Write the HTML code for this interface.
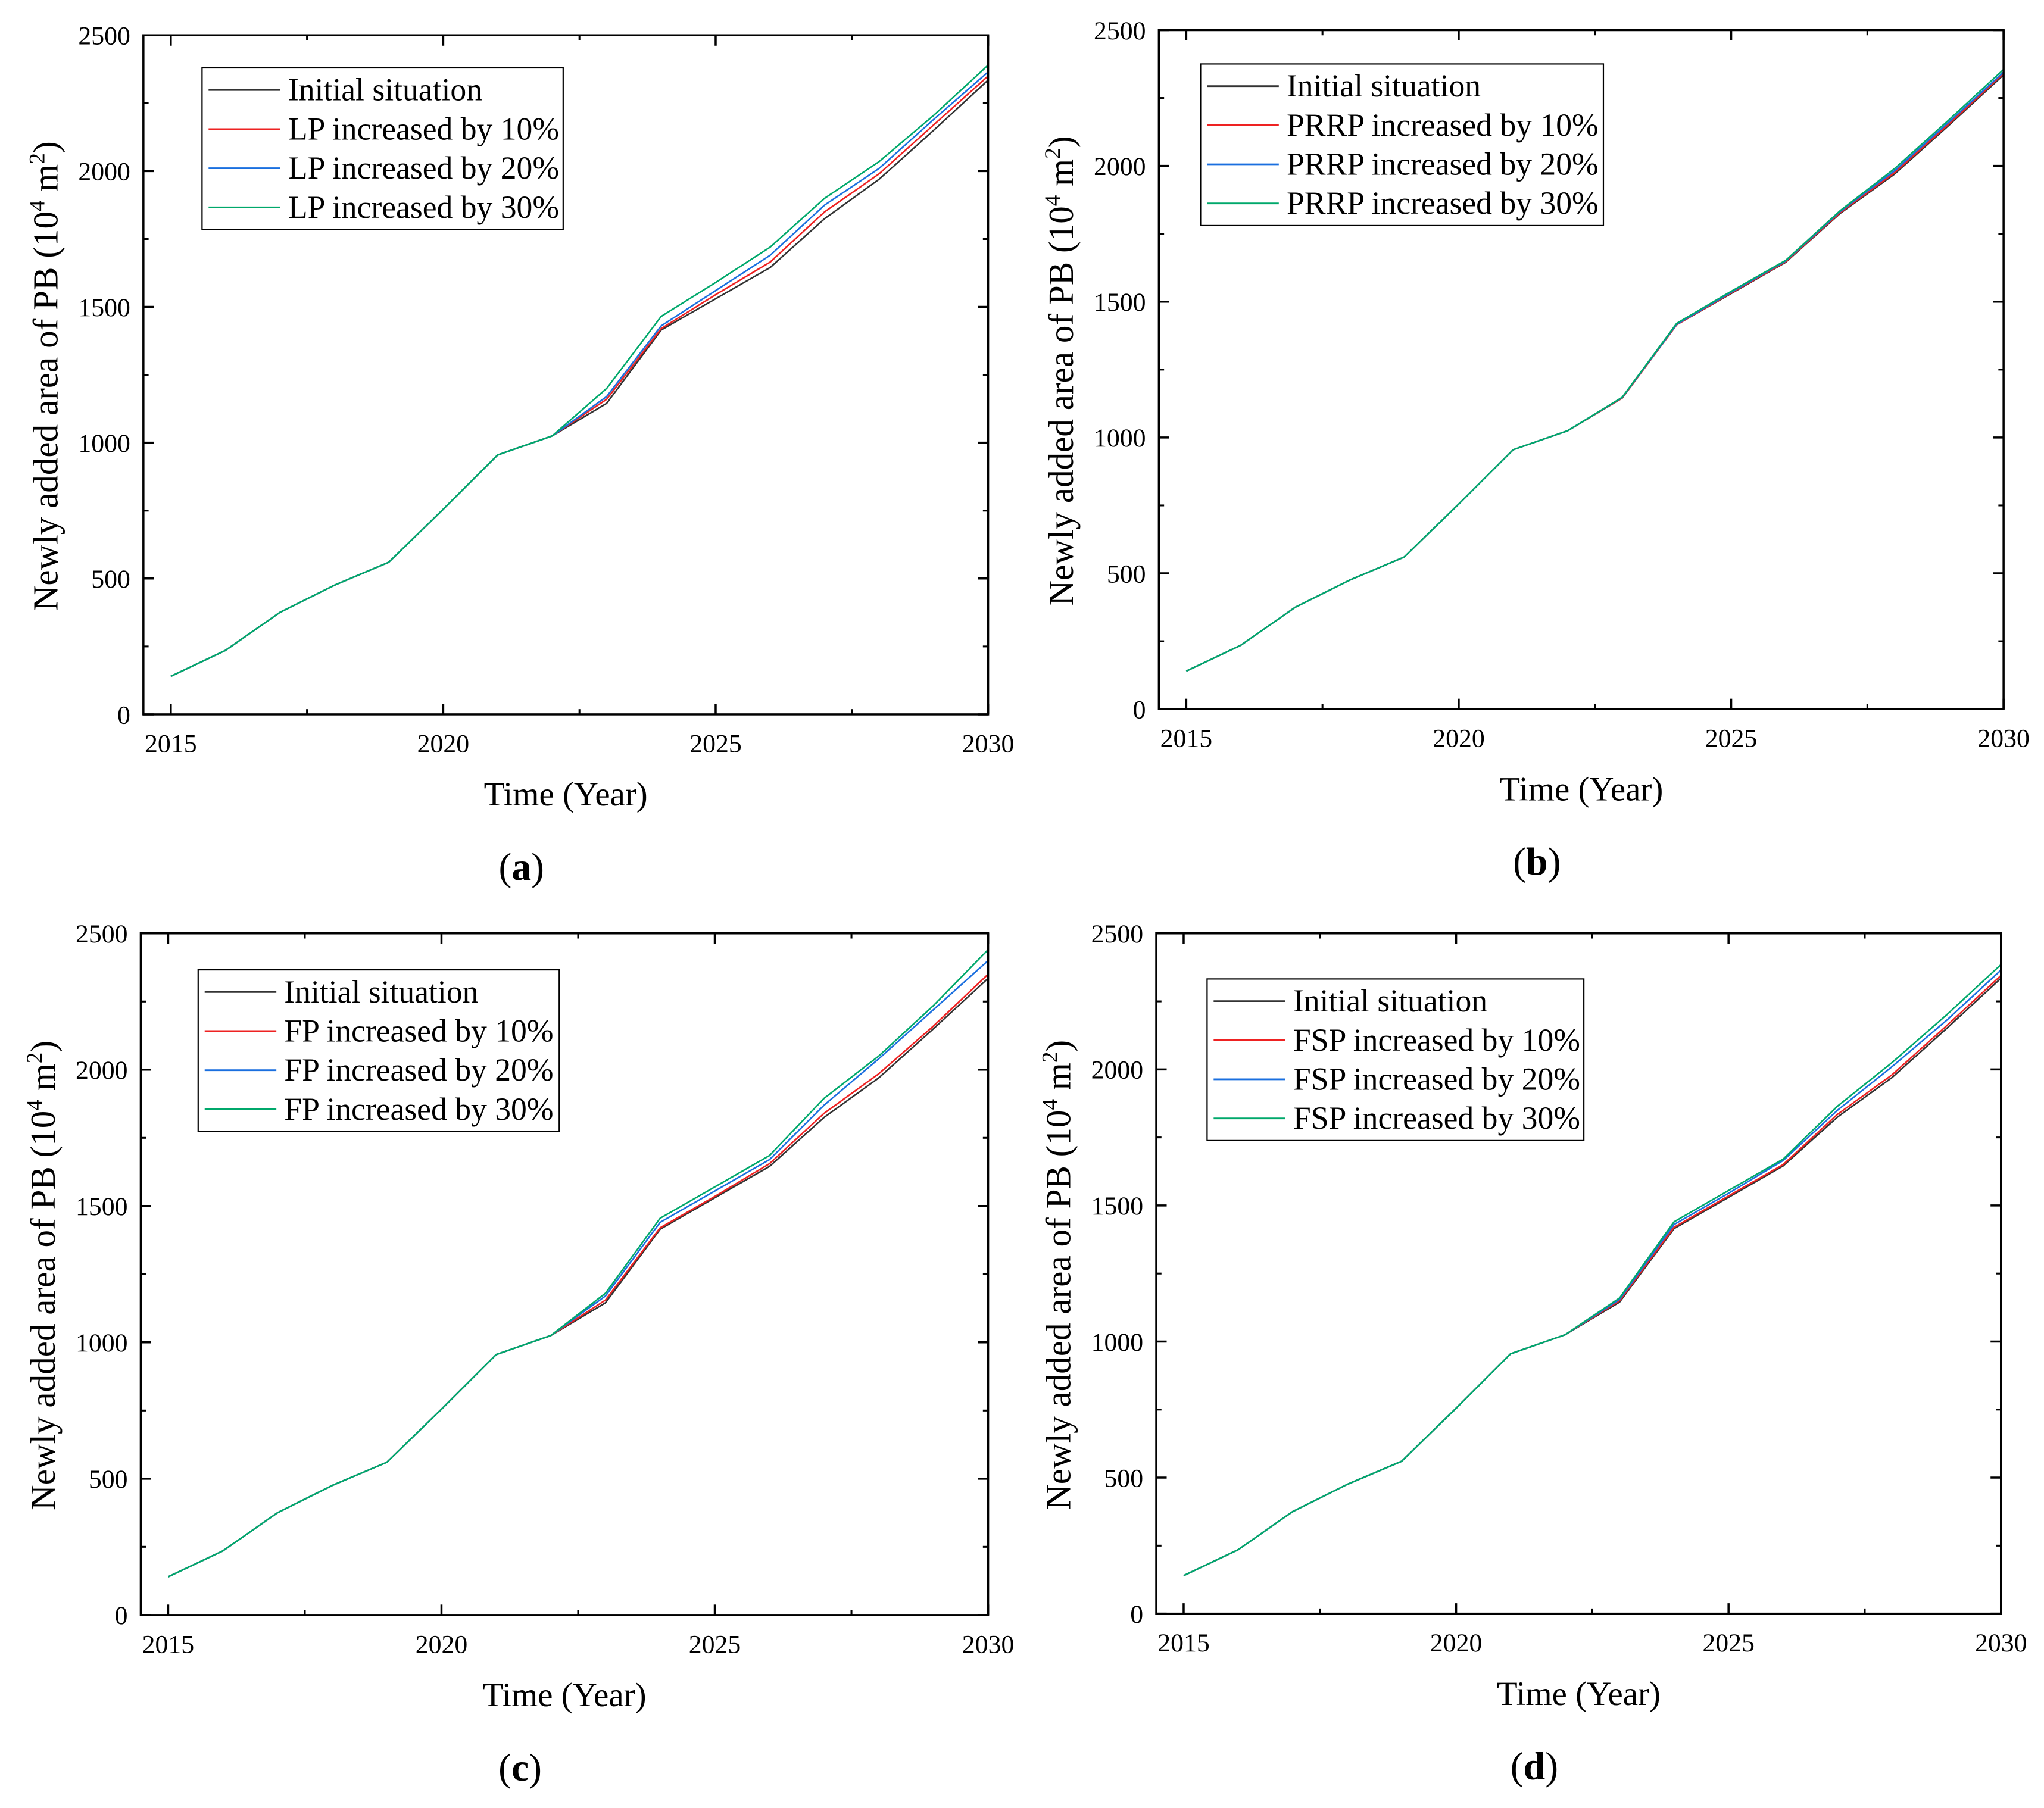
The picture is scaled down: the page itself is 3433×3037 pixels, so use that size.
<!DOCTYPE html>
<html><head><meta charset="utf-8"><style>html,body{margin:0;padding:0;background:#fff}svg{display:block}svg text{font-family:"Liberation Serif",serif !important;fill:#000}</style></head>
<body>
<svg id="fig" width="3433" height="3037" viewBox="0 0 1568 1387" font-family="Liberation Serif, serif" xmlns="http://www.w3.org/2000/svg"></svg>
<script>
const years=[2015,2016,2017,2018,2019,2020,2021,2022,2023,2024,2025,2026,2027,2028,2029,2030];
const base=[140,235,375,475,560,755,955,1025,1145,1415,1530,1645,1825,1970,2150,2335];
const head=[140,235,375,475,560,755,955,1025];
const aLP10=head.concat([1160,1420,1545,1665,1850,1990,2170,2350]);
const aLP20=head.concat([1170,1430,1560,1690,1875,2010,2190,2365]);
const aLP30=head.concat([1200,1465,1590,1720,1900,2035,2205,2390]);
const bP10=head.concat([1145,1415,1532,1647,1828,1975,2155,2340]);
const bP20=head.concat([1147,1417,1535,1650,1832,1982,2162,2345]);
const bP30=head.concat([1148,1420,1538,1652,1835,1990,2170,2355]);
const cF10=head.concat([1155,1420,1535,1655,1840,1985,2160,2350]);
const cF20=head.concat([1170,1440,1555,1670,1870,2040,2220,2400]);
const cF30=head.concat([1180,1455,1570,1685,1895,2050,2235,2440]);
const dF10=head.concat([1150,1420,1535,1650,1835,1980,2160,2345]);
const dF20=head.concat([1155,1430,1545,1665,1850,2010,2180,2365]);
const dF30=head.concat([1160,1440,1555,1670,1865,2025,2200,2385]);
const yTicks=[0,500,1000,1500,2000,2500];
const xTicks=[2015,2020,2025,2030];
const colors=['#333333','#ee2222','#1a6fdf','#00a86b'];
const NS='http://www.w3.org/2000/svg';
const FF='Liberation Serif, serif';
const svg=document.getElementById('fig');
function mk(tag,attrs,parent){const e=document.createElementNS(NS,tag);for(const k in attrs)e.setAttribute(k,attrs[k]);if(tag==='text')e.setAttribute('font-family',FF);(parent||svg).appendChild(e);return e;}
const panels=[
 {id:'a',x0:110,x1:758,y0:27,y1:548,x15:131,leg:[155,52,277],pre:'LP',s:[base,aLP10,aLP20,aLP30]},
 {id:'b',x0:889,x1:1537,y0:23,y1:544,x15:910,leg:[921,49,309],pre:'PRRP',s:[base,bP10,bP20,bP30]},
 {id:'c',x0:108,x1:758,y0:716,y1:1239,x15:129,leg:[152,744,277],pre:'FP',s:[base,cF10,cF20,cF30]},
 {id:'d',x0:887,x1:1535,y0:716,y1:1238,x15:908,leg:[926,751,289],pre:'FSP',s:[base,dF10,dF20,dF30]}
];
panels.forEach(p=>{
 const g=mk('g',{});
 
 
 const xs=v=>p.x15+(v-2015)*(p.x1-p.x15)/15;
 const ys=v=>p.y1-v*(p.y1-p.y0)/2500;
 p.s.forEach((arr,i)=>{
  const pts=years.map((y,j)=>xs(y).toFixed(2)+','+ys(arr[j]).toFixed(2)).join(' ');
  const pl=mk('polyline',{points:pts,fill:'none',stroke:colors[i],'stroke-width':1.2,'stroke-linejoin':'round'},g);
  
  
 });
 const fr=mk('rect',{x:p.x0,y:p.y0,width:p.x1-p.x0,height:p.y1-p.y0,fill:'none',stroke:'#000','stroke-width':1.6},g);
 
 
 yTicks.forEach(v=>{
  const y=ys(v);
  mk('line',{x1:p.x0,x2:p.x0+8,y1:y,y2:y,stroke:'#000','stroke-width':1.6},g);
  mk('line',{x1:p.x1,x2:p.x1-8,y1:y,y2:y,stroke:'#000','stroke-width':1.6},g);
  const t=mk('text',{x:p.x0-10,y:y+7,'text-anchor':'end','font-size':20},g);t.textContent=v;
  
  
  if(v<2500){const ym=ys(v+250);
   mk('line',{x1:p.x0,x2:p.x0+4,y1:ym,y2:ym,stroke:'#000','stroke-width':1.4},g);
   mk('line',{x1:p.x1,x2:p.x1-4,y1:ym,y2:ym,stroke:'#000','stroke-width':1.4},g);}
 });
 xTicks.forEach(v=>{
  const x=xs(v);
  mk('line',{x1:x,x2:x,y1:p.y1,y2:p.y1-8,stroke:'#000','stroke-width':1.6},g);
  mk('line',{x1:x,x2:x,y1:p.y0,y2:p.y0+8,stroke:'#000','stroke-width':1.6},g);
  const t=mk('text',{x:x,y:p.y1+29,'text-anchor':'middle','font-size':20},g);t.textContent=v;
  
  
  if(v<2030){const xm=xs(v+2.5);
   mk('line',{x1:xm,x2:xm,y1:p.y1,y2:p.y1-4,stroke:'#000','stroke-width':1.4},g);
   mk('line',{x1:xm,x2:xm,y1:p.y0,y2:p.y0+4,stroke:'#000','stroke-width':1.4},g);}
 });
 const cx=(p.x0+p.x1)/2, cy=(p.y0+p.y1)/2;
 const xt=mk('text',{x:cx,y:p.y1+70,'text-anchor':'middle','font-size':26},g);xt.textContent='Time (Year)';
 
 
 const yt=mk('text',{x:0,y:0,'text-anchor':'middle','font-size':27,transform:`translate(${p.x0-66},${cy+1}) rotate(-90)`},g);
 yt.innerHTML='Newly added area of PB (10<tspan dy="-10" font-size="17">4</tspan><tspan dy="10"> m</tspan><tspan dy="-10" font-size="17">2</tspan><tspan dy="10">)</tspan>';
 
 
 const lb=mk('text',{x:cx-34,y:p.y1+127,'text-anchor':'middle','font-size':30},g);
 lb.innerHTML='(<tspan font-weight="bold">'+p.id+'</tspan>)';
 
 
 const [lx,ly,lw]=p.leg;
 const lg=mk('g',{},g);
 
 
 mk('rect',{x:lx,y:ly,width:lw,height:124,fill:'#fff',stroke:'#000','stroke-width':1},lg);
 const names=['Initial situation',p.pre+' increased by 10%',p.pre+' increased by 20%',p.pre+' increased by 30%'];
 names.forEach((n,i)=>{
  const yy=ly+17+i*30;
  mk('line',{x1:lx+5,x2:lx+60,y1:yy,y2:yy,stroke:colors[i],'stroke-width':1.3},lg);
  const t=mk('text',{x:lx+66,y:yy+8,'font-size':24.5},lg);t.textContent=n;
  
  
 });
});
</script>
</body></html>
